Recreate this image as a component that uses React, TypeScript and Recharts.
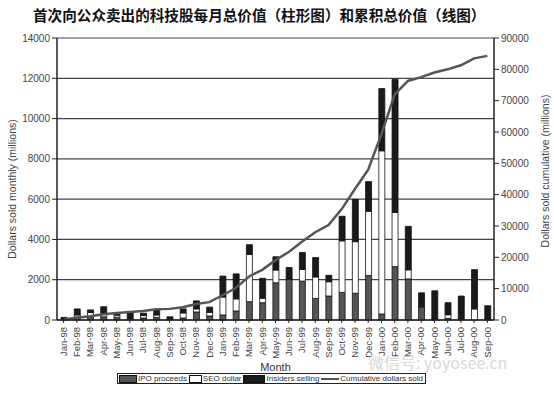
import {
  ComposedChart,
  Bar,
  Line,
  XAxis,
  YAxis,
  CartesianGrid,
} from "recharts";

const months = [
  "Jan-98", "Feb-98", "Mar-98", "Apr-98", "May-98", "Jun-98", "Jul-98", "Aug-98",
  "Sep-98", "Oct-98", "Nov-98", "Dec-98", "Jan-99", "Feb-99", "Mar-99", "Apr-99",
  "May-99", "Jun-99", "Jul-99", "Aug-99", "Sep-99", "Oct-99", "Nov-99", "Dec-99",
  "Jan-00", "Feb-00", "Mar-00", "Apr-00", "May-00", "Jun-00", "Jul-00", "Aug-00",
  "Sep-00",
];

const ipoProceeds = [
  50, 150, 170, 160, 140, 80, 100, 130, 40, 100, 400, 200, 250, 450, 910, 860,
  1850, 2030, 1930, 1070, 1190, 1370, 1330, 2210, 300, 2650, 2040, 650, 50, 80,
  0, 0, 0,
];

const seoDollar = [
  30, 100, 200, 170, 100, 0, 120, 120, 0, 250, 150, 180, 890, 600, 2350, 220,
  630, 0, 580, 1070, 710, 2560, 2560, 3190, 8100, 2690, 450, 0, 0, 180, 0, 550,
  0,
];

const insidersSelling = [
  50, 300, 130, 330, 120, 280, 120, 250, 120, 200, 400, 260, 1040, 1240, 480,
  990, 660, 580, 840, 960, 320, 1220, 2100, 1470, 3090, 6610, 2160, 700, 1400,
  600, 1190, 1950, 710,
];

const cumulativeSold = [
  130, 700, 1200, 1850, 2200, 2550, 2900, 3400, 3550, 4100, 5100, 5700, 7900,
  10200, 13900, 16000, 19100, 21700, 25000, 28000, 30300, 35400, 41800, 48000,
  59300, 72000, 76300, 77500, 79000, 80000, 81300, 83500, 84300,
];

const leftTicks = [0, 2000, 4000, 6000, 8000, 10000, 12000, 14000];
const rightTicks = [0, 10000, 20000, 30000, 40000, 50000, 60000, 70000, 80000, 90000];

const data = months.map((month, i) => ({
  month,
  ipo: ipoProceeds[i],
  seo: seoDollar[i],
  insiders: insidersSelling[i],
  cumulative: cumulativeSold[i],
}));

const FONT = "'Liberation Sans', Arial, sans-serif";

function MonthTick(props: any) {
  const { x, y, payload } = props;
  return (
    <g transform={`translate(${x},${y})`}>
      <text
        transform="rotate(-90)"
        x={-2}
        dy="0.35em"
        textAnchor="end"
        fontSize={9.5}
        fill="#444"
        fontFamily={FONT}
      >
        {payload.value}
      </text>
    </g>
  );
}

// legend drawn as a small boxed strip under the axis title
function LegendBox() {
  const item = (swatchW: number, bg: string, label: string, isLine = false) => (
    <span style={{ display: "flex", alignItems: "center", whiteSpace: "nowrap" }}>
      <span
        style={{
          display: "inline-block",
          width: swatchW,
          height: isLine ? 2 : 6,
          background: bg,
          border: isLine ? "none" : "1px solid #111",
          marginRight: 1,
          flexShrink: 0,
        }}
      />
      {label}
    </span>
  );
  return (
    <div
      style={{
        position: "absolute",
        left: 117,
        top: 373,
        width: 309,
        height: 11,
        boxSizing: "border-box",
        border: "1px solid #222",
        fontFamily: FONT,
        fontSize: 8,
        color: "#333",
        lineHeight: "9px",
        display: "flex",
        alignItems: "center",
        justifyContent: "space-between",
        padding: "0 2px 0 1px",
      }}
    >
      {item(16, "#555", "IPO proceeds")}
      {item(11, "#fff", "SEO dollar")}
      {item(20, "#1a1a1a", "Insiders selling")}
      {item(18, "#555", "Cumulative dollars sold", true)}
    </div>
  );
}

export default function App() {
  return (
    <div
      style={{
        position: "absolute",
        left: 0,
        top: 0,
        width: 554,
        height: 393,
        background: "#fff",
        overflow: "hidden",
      }}
    >
      <div
        style={{
          position: "absolute",
          left: 33,
          top: 4,
          fontFamily: "'Noto Sans CJK SC', sans-serif",
          fontWeight: 700,
          fontSize: 14.6,
          color: "#111",
          lineHeight: "22px",
          whiteSpace: "nowrap",
        }}
      >
        首次向公众卖出的科技股每月总价值（柱形图）和累积总价值（线图）
      </div>
      <ComposedChart
        width={554}
        height={393}
        data={data}
        margin={{ top: 38, right: 0, bottom: 0, left: 0 }}
        barSize={6}
      >
        <CartesianGrid
          yAxisId="left"
          vertical={false}
          stroke="#444"
          strokeWidth={1.2}
        />
        <XAxis
          dataKey="month"
          interval={0}
          height={73}
          tick={<MonthTick />}
          tickSize={3}
          stroke="#222"
          axisLine={{ stroke: "#222", strokeWidth: 1.5 }}
          label={{
            value: "Month",
            position: "insideBottom",
            offset: 22,
            fontSize: 11,
            fill: "#333",
            fontFamily: FONT,
          }}
        />
        <YAxis
          yAxisId="left"
          width={57}
          domain={[0, 14000]}
          ticks={leftTicks}
          tickSize={5}
          stroke="#222"
          axisLine={{ stroke: "#222", strokeWidth: 1.5 }}
          tick={{ fontSize: 10, fill: "#444", fontFamily: FONT }}
          label={{
            value: "Dollars sold monthly (millions)",
            angle: -90,
            position: "insideLeft",
            offset: 12,
            dy: 10,
            style: { textAnchor: "middle" },
            fontSize: 10.5,
            fill: "#444",
            fontFamily: FONT,
          }}
        />
        <YAxis
          yAxisId="right"
          orientation="right"
          width={60}
          domain={[0, 90000]}
          ticks={rightTicks}
          tickSize={5}
          stroke="#222"
          axisLine={{ stroke: "#222", strokeWidth: 1.5 }}
          tick={{ fontSize: 10, fill: "#444", fontFamily: FONT }}
          label={{
            value: "Dollars sold cumulative (millions)",
            angle: -90,
            position: "insideRight",
            offset: 9,
            dy: -8,
            style: { textAnchor: "middle" },
            fontSize: 10.5,
            fill: "#444",
            fontFamily: FONT,
          }}
        />
        <Bar
          yAxisId="left"
          dataKey="ipo"
          stackId="a"
          fill="#555"
          stroke="#111"
          strokeWidth={0.8}
          isAnimationActive={false}
        />
        <Bar
          yAxisId="left"
          dataKey="seo"
          stackId="a"
          fill="#fff"
          stroke="#111"
          strokeWidth={0.8}
          isAnimationActive={false}
        />
        <Bar
          yAxisId="left"
          dataKey="insiders"
          stackId="a"
          fill="#1a1a1a"
          stroke="#111"
          strokeWidth={0.8}
          isAnimationActive={false}
        />
        <Line
          yAxisId="right"
          type="linear"
          dataKey="cumulative"
          stroke="#555"
          strokeWidth={2.5}
          dot={false}
          isAnimationActive={false}
        />
      </ComposedChart>
      <LegendBox />
      <div
        style={{
          position: "absolute",
          left: 368,
          top: 350,
          fontFamily: "'Noto Sans CJK SC', sans-serif",
          fontSize: 16,
          color: "#d8d8d8",
          whiteSpace: "nowrap",
        }}
      >
        微信号: yoyosee.cn
      </div>
    </div>
  );
}
